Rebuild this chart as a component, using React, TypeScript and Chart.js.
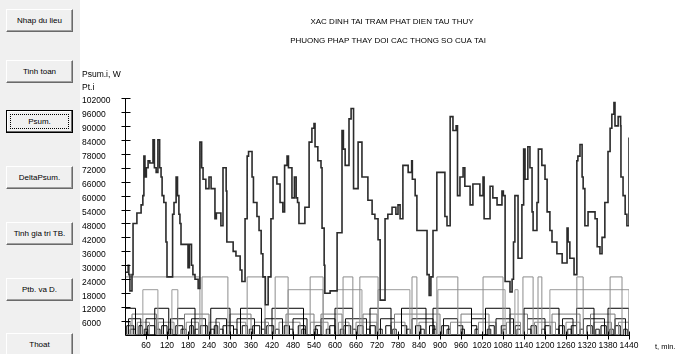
import { useEffect, useRef } from "react";
import { Chart, registerables } from "chart.js";

Chart.register(...registerables);

// Total station load Psum over one day: step starts (min) and values (W)
const psumT = [
  0, 9, 11, 14, 20, 23, 34, 46, 51, 54, 57, 61, 66, 71, 80, 84, 89, 94, 99, 103, 106, 111, 117, 120,
  136, 140, 146, 150, 154, 157, 160, 180, 184, 190, 194, 200, 209, 214, 219, 223, 231, 240, 246, 257,
  261, 274, 280, 289, 291, 309, 317, 329, 334, 343, 349, 353, 363, 367, 377, 383, 389, 394, 401, 409,
  417, 423, 434, 443, 451, 456, 463, 467, 477, 484, 489, 493, 497, 514, 526, 534, 540, 543, 551, 560,
  563, 569, 571, 586, 606, 620, 624, 629, 640, 646, 653, 666, 677, 694, 706, 714, 723, 729, 743, 751,
  763, 774, 780, 786, 794, 809, 819, 821, 829, 834, 863, 869, 874, 880, 891, 914, 920, 929, 937, 946,
  950, 957, 966, 971, 986, 994, 1014, 1023, 1026, 1034, 1043, 1051, 1063, 1077, 1081, 1086, 1100, 1106,
  1110, 1114, 1123, 1134, 1139, 1143, 1151, 1157, 1163, 1166, 1177, 1181, 1191, 1200, 1206, 1214, 1220,
  1234, 1249, 1263, 1266, 1271, 1283, 1291, 1294, 1300, 1306, 1309, 1314, 1323, 1343, 1349, 1357, 1363,
  1371, 1380, 1386, 1391, 1397, 1400, 1409, 1416, 1417, 1423, 1429, 1434, 1440,
];
const psumW = [
  27000, 30000, 26000, 19000, 26000, 48000, 52500, 56000, 60000, 77000, 68000, 72000, 75000, 74000,
  84000, 72000, 70000, 84000, 72000, 68000, 60000, 57000, 40000, 25000,
  52000, 57000, 68000, 60000, 52000, 48000, 39000, 29000, 39000, 30000, 26000, 24000, 20000, 83000,
  72000, 67000, 63000, 68000, 63000, 50000,
  52500, 47000, 72000, 62000, 40000, 36000, 34000, 28000, 23000, 50000, 77000, 79000, 68000, 57000,
  51000, 45000, 35000, 25000, 13000, 25000,
  50000, 68000, 65000, 57000, 53000, 73000, 77000, 72000, 59000, 68000, 59000, 57000, 48000, 55000,
  83000, 89000, 91000, 81000, 75000, 72000,
  46000, 30000, 18000, 19000, 44000, 88000, 80000, 73000, 93000, 97500, 63000, 83000, 68000, 58000,
  52000, 50000, 41000, 15000, 50000, 52000,
  55000, 52000, 56000, 50000, 73000, 70000, 75000, 67000, 60000, 45000, 26000, 17000, 25000, 45000,
  70000, 51000, 47000, 94000, 88000, 90000,
  60000, 68000, 72000, 64000, 56000, 65000, 60000, 68000, 50000, 50000, 64000, 59000, 56000, 62000,
  60000, 23000, 18500, 24000,
  40000, 60000, 33000, 56000, 80000, 67000, 81000, 72000, 53000, 45000, 57000, 80000, 73000, 67000,
  53000, 45000, 40000,
  35000, 31000, 46000, 40000, 33000, 26000, 75000, 77000, 82000, 68000, 63000, 47000, 53000, 50000,
  38000, 35000, 42000,
  57000, 79000, 89000, 95000, 100000, 90000, 94000, 90000, 68000, 60000, 52000, 47000, 85000,
];

// Individual loads Pt.i: rated power (W) and on-intervals [start, end] in minutes
const unitPower = [25000, 19500, 11500, 9000, 7000, 5500, 4000, 2500];
const unitRuns: [number, number][][] = [
  [[0, 214], [220, 294], [349, 400], [429, 466], [529, 566], [623, 651], [671, 723], [820, 834],
   [891, 951], [1023, 1080], [1137, 1166], [1180, 1191], [1291, 1309], [1386, 1420]],
  [[51, 94], [134, 151], [466, 566], [606, 677], [723, 814], [894, 1086], [1114, 1123], [1214, 1440]],
  [[0, 30], [85, 125], [150, 200], [245, 300], [330, 390], [420, 510], [600, 650], [700, 760],
   [790, 860], [880, 990], [1030, 1100], [1140, 1240], [1290, 1340], [1380, 1440]],
  [[20, 90], [170, 240], [300, 360], [460, 540], [560, 620], [680, 720], [770, 900], [960, 1040],
   [1100, 1150], [1220, 1300], [1330, 1400]],
  [[10, 45], [60, 110], [130, 170], [190, 230], [260, 290], [320, 370], [400, 450], [480, 520],
   [560, 600], [630, 690], [730, 770], [820, 880], [910, 950], [990, 1030], [1060, 1110],
   [1150, 1200], [1250, 1280], [1310, 1370], [1400, 1430]],
  [[0, 15], [35, 70], [95, 140], [175, 210], [240, 270], [290, 345], [370, 410], [440, 500],
   [530, 580], [610, 640], [660, 720], [760, 800], [840, 890], [930, 990], [1010, 1060],
   [1090, 1130], [1170, 1230], [1260, 1300], [1340, 1390], [1410, 1440]],
  [[5, 25], [40, 50], [65, 85], [105, 120], [145, 165], [185, 195], [215, 235], [255, 265],
   [280, 310], [335, 350], [365, 385], [405, 425], [455, 470], [495, 515], [545, 560], [585, 600],
   [625, 645], [665, 680], [700, 715], [745, 760], [790, 805], [830, 845], [870, 885], [905, 925],
   [950, 965], [990, 1005], [1040, 1055], [1075, 1090], [1115, 1130], [1160, 1175], [1200, 1215],
   [1240, 1255], [1275, 1290], [1320, 1335], [1360, 1375], [1400, 1415]],
  [[15, 30], [55, 65], [90, 100], [125, 135], [160, 175], [200, 210], [245, 255], [270, 280],
   [310, 320], [355, 365], [390, 400], [430, 440], [470, 480], [505, 515], [540, 550], [575, 585],
   [615, 625], [650, 660], [690, 700], [725, 735], [765, 775], [805, 815], [845, 855], [880, 890],
   [920, 930], [960, 970], [1000, 1010], [1035, 1045], [1080, 1090], [1120, 1130], [1150, 1160],
   [1190, 1200], [1230, 1240], [1265, 1275], [1300, 1310], [1345, 1355], [1385, 1395], [1425, 1435]],
];
const unitColors = ["#8c8c8c", "#9a9a9a", "#000000", "#7a7a7a", "#111111", "#8a8a8a", "#000000", "#1a1a1a"];

const yTicks = { min: 0, max: 102000, step: 6000 };
const xTicks = { min: 0, max: 1440, step: 60 };

const buttons = [
  { label: "Nhap du lieu", top: 9 },
  { label: "Tinh toan", top: 60 },
  { label: "Psum.", top: 110, focused: true },
  { label: "DeltaPsum.", top: 166 },
  { label: "Tinh gia tri TB.", top: 222 },
  { label: "Ptb. va D.", top: 278 },
  { label: "Thoat", top: 333 },
];

const FONT = '"Liberation Sans", Arial, sans-serif';

function runsToSteps(level: number, runs: [number, number][]) {
  const pts: { x: number; y: number }[] = [];
  if (runs.length && runs[0][0] > 0) pts.push({ x: 0, y: 0 });
  for (const [a, b] of runs) {
    pts.push({ x: a, y: level });
    pts.push({ x: b, y: 0 });
  }
  return pts;
}

// Axis lines with crossing tick marks, titles and axis captions
const framePlugin = {
  id: "frame",
  afterDatasetsDraw(chart: any) {
    const { ctx, scales } = chart;
    const x = scales.x;
    const y = scales.y;
    const px = (v: number) => Math.round(x.getPixelForValue(v)) + 0.5;
    const py = (v: number) => Math.round(y.getPixelForValue(v)) + 0.5;
    ctx.save();
    ctx.strokeStyle = "#000";
    ctx.lineWidth = 1;
    ctx.beginPath();
    const x0 = px(xTicks.min);
    const yb = py(yTicks.min);
    ctx.moveTo(x0, py(yTicks.max));
    ctx.lineTo(x0, yb);
    ctx.lineTo(px(xTicks.max), yb);
    for (let v = yTicks.step; v <= yTicks.max; v += yTicks.step) {
      ctx.moveTo(x0 - 4, py(v));
      ctx.lineTo(x0 + 5, py(v));
    }
    for (let v = xTicks.step; v <= xTicks.max; v += xTicks.step) {
      ctx.moveTo(px(v), yb - 4);
      ctx.lineTo(px(v), yb + 4);
    }
    ctx.stroke();

    ctx.fillStyle = "#000";
    ctx.textBaseline = "middle";
    ctx.font = `8px ${FONT}`;
    ctx.textAlign = "center";
    ctx.fillText("XAC DINH TAI TRAM PHAT DIEN TAU THUY", 312, 22);
    ctx.fillText("PHUONG PHAP THAY DOI CAC THONG SO CUA TAI", 308, 41);
    ctx.textAlign = "left";
    ctx.font = `8.5px ${FONT}`;
    ctx.fillText("Psum.i, W", 2, 75);
    ctx.fillText("Pt.i", 2, 88);
    ctx.font = `7.5px ${FONT}`;
    ctx.fillText("t, min.", 575, 347);
    ctx.restore();
  },
};

export default function App() {
  const ref = useRef<HTMLCanvasElement>(null);

  useEffect(() => {
    const datasets: any[] = [
      {
        label: "Psum",
        data: psumT.map((t, i) => ({ x: t, y: psumW[i] })),
        stepped: true,
        borderColor: "#2b2b2b",
        borderWidth: 1.6,
        pointRadius: 0,
        fill: false,
      },
    ];
    unitPower.forEach((p, i) => {
      datasets.push({
        label: `Pt.${i + 1}`,
        data: runsToSteps(p, unitRuns[i]),
        stepped: true,
        borderColor: unitColors[i],
        borderWidth: 1,
        pointRadius: 0,
        fill: false,
      });
    });

    const chart = new Chart(ref.current!, {
      type: "line",
      data: { datasets },
      plugins: [framePlugin],
      options: {
        animation: false,
        responsive: false,
        devicePixelRatio: 1,
        layout: { padding: { left: 2, top: 98, right: 48, bottom: 0 } },
        plugins: { legend: { display: false }, tooltip: { enabled: false }, title: { display: false } },
        scales: {
          x: {
            type: "linear",
            min: xTicks.min,
            max: xTicks.max,
            grid: { display: false, drawTicks: false },
            border: { display: false },
            afterFit: (s: any) => { s.height = 19; },
            ticks: {
              stepSize: xTicks.step,
              autoSkip: false,
              maxRotation: 0,
              padding: 6,
              color: "#000",
              font: { family: FONT, size: 8.5 },
              callback: (v: any) => (v === 0 ? "" : String(v)),
            },
          },
          y: {
            type: "linear",
            min: yTicks.min,
            max: yTicks.max,
            grid: { display: false, drawTicks: false },
            border: { display: false },
            afterFit: (s: any) => { s.width = 43; },
            ticks: {
              stepSize: yTicks.step,
              crossAlign: "far",
              labelOffset: 3,
              color: "#000",
              font: { family: FONT, size: 8.5 },
              callback: (v: any) => (v === 0 ? "" : String(v)),
            },
          },
        },
      },
    });
    return () => chart.destroy();
  }, []);

  return (
    <div style={{ position: "fixed", left: 0, top: 0, width: 677, height: 354, background: "#fff", overflow: "hidden" }}>
      <div style={{ position: "absolute", left: 0, top: 0, width: 80, height: 354, background: "#f0f0f0" }}>
        {buttons.map((b) => (
          <div
            key={b.label}
            style={{
              position: "absolute",
              left: 6,
              top: b.top,
              width: 67,
              height: 23,
              boxSizing: "border-box",
              background: "#f0f0f0",
              border: b.focused ? "1px solid #000" : "1px solid",
              borderColor: b.focused ? "#000" : "#ffffff #6a6a6a #6a6a6a #ffffff",
              boxShadow: b.focused ? "inset -1px -1px #6a6a6a, inset 1px 1px #fff" : "inset -1px -1px #a0a0a0",
              display: "flex",
              alignItems: "center",
              justifyContent: "center",
              font: `8px ${FONT}`,
              color: "#000",
            }}
          >
            {b.focused && (
              <div style={{ position: "absolute", left: 3, top: 3, right: 3, bottom: 3, border: "1px dotted #000" }} />
            )}
            <span style={{ position: "relative" }}>{b.label}</span>
          </div>
        ))}
      </div>
      <canvas ref={ref} width={597} height={354} style={{ position: "absolute", left: 80, top: 0 }} />
    </div>
  );
}
